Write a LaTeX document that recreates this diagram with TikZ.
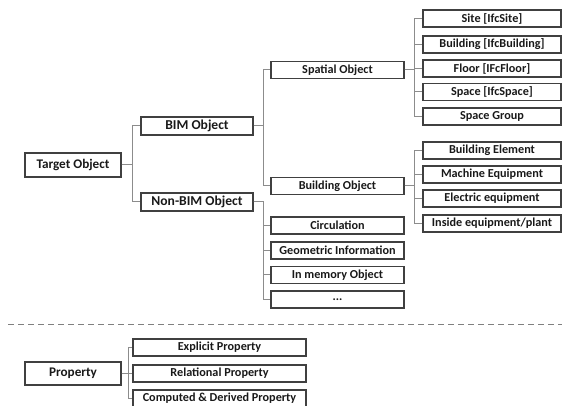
\documentclass[tikz,border=0pt]{standalone}
\usepackage{fontspec}
\setmainfont{Carlito}
\begin{document}
\begin{tikzpicture}[x=1pt,y=-1pt,
    box/.style={draw=black!75, line width=1.1pt, inner sep=0pt, text=black!90,
      font=\bfseries\fontsize{12.2}{13}\selectfont},
    topbox/.style={box, minimum width=96pt, minimum height=24pt,
      font=\bfseries\fontsize{13.2}{14}\selectfont},
    midbox/.style={box, minimum width=112pt, minimum height=18pt,
      font=\bfseries\fontsize{13.6}{14}\selectfont},
    subbox/.style={box, minimum width=133pt, minimum height=17pt},
    leafbox/.style={box, minimum width=138pt, minimum height=17pt},
    propbox/.style={box, minimum width=173pt, minimum height=17pt},
    conn/.style={draw=black!45, line width=1pt},
    sepline/.style={draw=black!50, line width=1.6pt, dash pattern=on 6pt off 4pt}]
    \useasboundingbox (0,0) rectangle (568,406);
    % Target Object
    \node[topbox] (target) at (73,165) {Target Object};
    \node[midbox] (bim) at (197,126) {BIM Object};
    \node[midbox] (nonbim) at (197,202) {Non-BIM Object};
    \draw[conn] (target.east) -- +(11,0) |- (bim.west);
    \draw[conn] (target.east) -- +(11,0) |- (nonbim.west);
    % BIM Object
    \node[subbox] (spatial) at (337.5,70) {Spatial Object};
    \node[subbox] (bldobj) at (337.5,186) {Building Object};
    \draw[conn] (bim.east) -- +(10,0) |- (spatial.west);
    \draw[conn] (bim.east) -- +(10,0) |- (bldobj.west);
    % Spatial Object
    \node[leafbox] (site) at (492,18.5) {Site [IfcSite]};
    \node[leafbox] (building) at (492,44.5) {Building [IfcBuilding]};
    \node[leafbox] (floor) at (492,68.5) {Floor [IFcFloor]};
    \node[leafbox] (space) at (492,92) {Space [IfcSpace]};
    \node[leafbox] (group) at (492,116.5) {Space Group};
    \foreach \n in {site,building,floor,space,group}
        \draw[conn] (spatial.east) -- +(10,0) |- (\n.west);
    % Building Object
    \node[leafbox] (element) at (492,150.5) {Building Element};
    \node[leafbox] (machine) at (492,174.5) {Machine Equipment};
    \node[leafbox] (electric) at (492,198.5) {Electric equipment};
    \node[leafbox] (inside) at (492,223.5) {Inside equipment/plant};
    \foreach \n in {element,machine,electric,inside}
        \draw[conn] (bldobj.east) -- +(10,0) |- (\n.west);
    % Non-BIM Object
    \node[subbox] (circ) at (337.5,225.5) {Circulation};
    \node[subbox] (geom) at (337.5,250.5) {Geometric Information};
    \node[subbox] (memory) at (337.5,275) {In memory Object};
    \node[subbox] (etc) at (337.5,299.5) {...};
    \foreach \n in {circ,geom,memory,etc}
        \draw[conn] (nonbim.east) -- +(10,0) |- (\n.west);
    % Trennlinie
    \draw[sepline] (8,324.5) -- (562,324.5);
    % Property
    \node[topbox, minimum height=23pt] (prop) at (73,373.5) {Property};
    \node[propbox] (explicit) at (219.5,347.5) {Explicit Property};
    \node[propbox] (relational) at (219.5,373.5) {Relational Property};
    \node[propbox] (computed) at (219.5,398.5) {Computed \& Derived Property};
    \foreach \n in {explicit,relational,computed}
        \draw[conn] (prop.east) -- +(7,0) |- (\n.west);
\end{tikzpicture}
\end{document}
